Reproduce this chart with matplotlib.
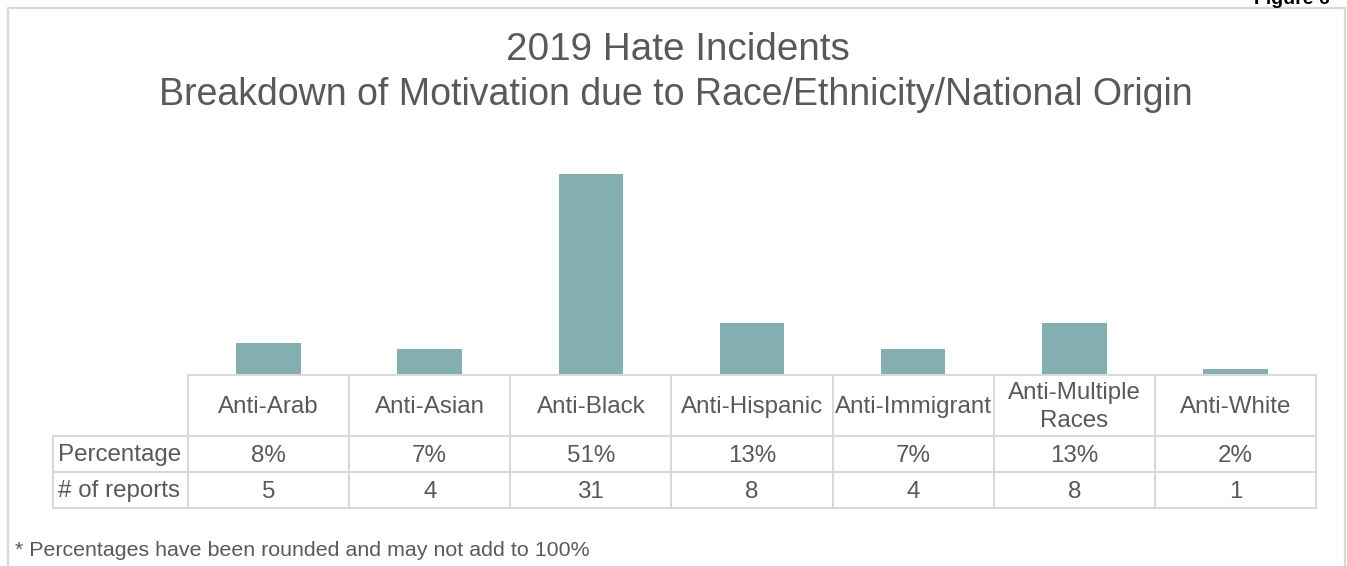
import matplotlib
matplotlib.use("Agg")
import matplotlib.pyplot as plt
from matplotlib.lines import Line2D

plt.rcParams['font.family'] = ['Liberation Sans', 'DejaVu Sans']

# data
categories = ['Anti-Arab', 'Anti-Asian', 'Anti-Black', 'Anti-Hispanic',
              'Anti-Immigrant', 'Anti-Multiple\nRaces', 'Anti-White']
percentages = ['8%', '7%', '51%', '13%', '7%', '13%', '2%']
reports = [5, 4, 31, 8, 4, 8, 1]
row_labels = ['Percentage', '# of reports']

W, H = 1347, 566
txt_color = '#595959'
grid_color = '#d9d9d9'
bar_color = '#85aeb1'

fig = plt.figure(figsize=(W / 100, H / 100), dpi=100)


def fx(px):
    return px / W


def fy(py):
    return 1 - py / H


# outer frame (runs off the bottom of the picture)
fig.add_artist(Line2D([fx(8), fx(8), fx(1345), fx(1345)],
                      [fy(570), fy(8), fy(8), fy(570)],
                      transform=fig.transFigure, color=grid_color, lw=1.6))

# clipped caption in the top right corner
fig.text(fx(1254), fy(4), 'Figure 6', fontsize=14, fontweight='bold',
         color='black', ha='left', va='baseline')

# title
fig.text(fx(678), fy(50), '2019 Hate Incidents', fontsize=27.8,
         color=txt_color, ha='center', va='center')
fig.text(fx(676), fy(95), 'Breakdown of Motivation due to Race/Ethnicity/National Origin',
         fontsize=27, color=txt_color, ha='center', va='center')

# bars
x0, x1 = 188, 1316
cat_w = (x1 - x0) / len(categories)
ax = fig.add_axes([fx(x0), fy(375), fx(x1 - x0), (375 - 174) / H])
xs = list(range(len(categories)))
ax.bar(xs, reports, width=0.4, color=bar_color)
ax.set_xlim(-0.5, len(categories) - 0.5)
ax.set_ylim(0, max(reports))
ax.axis('off')

# data table under the bars
label_w = (x0 - 53) / cat_w
rows = [0, 61, 97, 133]  # pixel offsets of row lines from table top
tab = fig.add_axes([fx(53), fy(508), fx(x1 - 53), 133 / H])
tab.set_xlim(-0.5 - label_w, len(categories) - 0.5)
tab.set_ylim(rows[-1], 0)
tab.axis('off')
lw = 1.5
left = -0.5 - label_w
right = len(categories) - 0.5
tab.plot([-0.5, right], [rows[0], rows[0]], color=grid_color, lw=lw, clip_on=False)
for r in rows[1:]:
    tab.plot([left, right], [r, r], color=grid_color, lw=lw, clip_on=False)
for i in range(len(categories) + 1):
    tab.plot([i - 0.5, i - 0.5], [rows[0], rows[-1]], color=grid_color, lw=lw, clip_on=False)
tab.plot([left, left], [rows[1], rows[-1]], color=grid_color, lw=lw, clip_on=False)

fs = 17.4
dy = 1.5  # nudge text a bit lower in each cell
for i, c in enumerate(categories):
    tab.text(i, (rows[0] + rows[1]) / 2 + dy, c, ha='center', va='center',
             fontsize=fs, color=txt_color, linespacing=1.3)
    tab.text(i, (rows[1] + rows[2]) / 2 + dy, percentages[i], ha='center', va='center',
             fontsize=fs, color=txt_color)
    tab.text(i, (rows[2] + rows[3]) / 2 + dy, str(reports[i]), ha='center', va='center',
             fontsize=fs, color=txt_color)
for j, lab in enumerate(row_labels):
    tab.text(left + 0.03, (rows[j + 1] + rows[j + 2]) / 2 + dy, lab, ha='left', va='center',
             fontsize=fs, color=txt_color)

# footnote
fig.text(fx(15), fy(551), '* Percentages have been rounded and may not add to 100%',
         fontsize=15.4, color=txt_color, ha='left', va='center')

fig.savefig('out.png', dpi=100)
